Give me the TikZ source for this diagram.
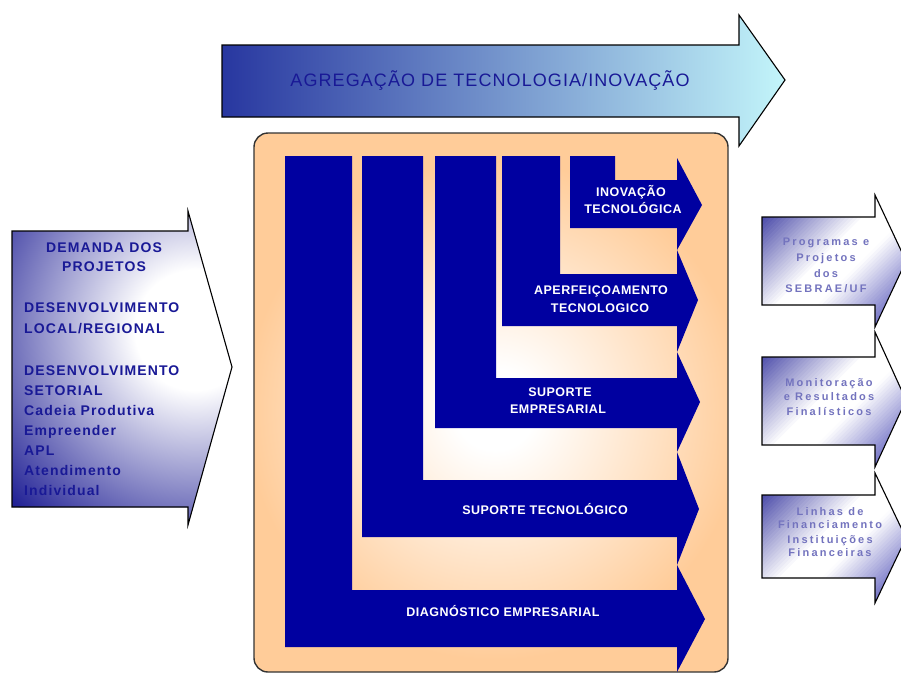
\documentclass[tikz,border=0pt]{standalone}
\usepackage{fontspec}
\setmainfont{Liberation Sans}
\newfontfamily\topfont[LetterSpace=6]{Liberation Sans}
\newfontfamily\lfont[LetterSpace=4]{Liberation Sans}
\newfontfamily\leftfont[LetterSpace=8]{Liberation Sans}
\newfontfamily\rfont[LetterSpace=20]{Liberation Sans}
\definecolor{lblue}{RGB}{0,0,160}
\definecolor{peach}{RGB}{255,204,153}
\definecolor{topdark}{RGB}{40,55,160}
\definecolor{toplight}{RGB}{195,245,250}
\definecolor{arrowdark}{RGB}{35,35,150}
\definecolor{arrowmid}{RGB}{60,60,175}
\definecolor{textblue}{RGB}{25,25,150}
\definecolor{rtext}{RGB}{115,115,190}
\pgfdeclareradialshading{peachglow}{\pgfpointorigin}{color(0bp)=(white); color(4bp)=(white); color(25bp)=(peach); color(50bp)=(peach)}
\pgfdeclareradialshading{blueglow}{\pgfpointorigin}{color(0bp)=(white); color(6bp)=(white); color(25bp)=(arrowdark); color(50bp)=(arrowdark)}
% diagonal gradient (upper left dark, white middle, lower right blue) built from thin bands
% #1 = clip path, #2 = smallest x+y, #3 = largest x+y
\newcommand\diagfill[3]{%
  \begin{scope}
    \clip #1;
    \foreach \i in {0,...,69}{%
      \pgfmathsetmacro\dsa{#2+(#3-#2)/70*\i}%
      \pgfmathsetmacro\dsb{#2+(#3-#2)/70*(\i+1)+1}%
      \pgfmathsetmacro\dtt{(\i+0.5)/70}%
      \pgfmathsetmacro\dpa{min(100,max(0,100*\dtt/0.45))}%
      \pgfmathsetmacro\dpb{min(100,max(0,100*(1-\dtt)/0.4))}%
      \fill[color={white!\dpa!arrowdark!\dpb!arrowmid}]
        (\dsa-150,150) -- (\dsb-150,150) -- (\dsb-700,700) -- (\dsa-700,700) -- cycle;
    }
  \end{scope}}
\begin{document}
\begin{tikzpicture}[x=1pt,y=-1pt,
  outline/.style={draw=black, line width=1.1pt},
  lbar/.style={fill=lblue},
  toptext/.style={inner sep=0pt, text=textblue, font=\topfont\fontsize{18}{18}\selectfont, text height=12.9pt, text depth=0pt},
  ltext/.style={inner sep=0pt, text=white, font=\lfont\bfseries\fontsize{12.5}{12.5}\selectfont, text height=9pt, text depth=0pt},
  lefttext/.style={inner sep=0pt, text=textblue, font=\leftfont\bfseries\fontsize{14}{14}\selectfont, text height=10pt, text depth=0pt},
  rtextstyle/.style={inner sep=0pt, text=rtext, font=\rfont\bfseries\fontsize{11}{11}\selectfont, text height=7.9pt, text depth=0pt}]
\useasboundingbox (0,0) rectangle (901,675);

% top arrow
\shade[outline, left color=topdark, right color=toplight]
  (222,45) -- (739,45) -- (739,15) -- (785,80) -- (739,146) -- (739,117) -- (222,117) -- cycle;
\node[toptext] (agreg) at (490,80) {AGREGAÇÃO DE TECNOLOGIA/INOVAÇÃO};

% central box
\fill[peach, rounded corners=14pt] (254,133) rectangle (728,672);
\begin{scope}
  \clip[rounded corners=14pt] (254,133) rectangle (728,672);
  \shade[shading=peachglow] (495,410) circle (250);
\end{scope}
\draw[line width=1.4pt, draw=black!80, rounded corners=14pt] (254,133) rectangle (728,672);

% L-shaped arrows
\fill[lbar] (285,156) -- (352,156) -- (352,590) -- (677,590) -- (677,565) -- (705,619) -- (677,672) -- (677,647) -- (285,647) -- cycle;
\fill[lbar] (362,156) -- (423,156) -- (423,480) -- (677,480) -- (677,452) -- (699,509) -- (677,565) -- (677,537) -- (362,537) -- cycle;
\fill[lbar] (435,156) -- (496,156) -- (496,378) -- (677,378) -- (677,352) -- (700,402) -- (677,452) -- (677,428) -- (435,428) -- cycle;
\fill[lbar] (502,156) -- (560,156) -- (560,274) -- (677,274) -- (677,250) -- (698,300) -- (677,352) -- (677,326) -- (502,326) -- cycle;
\fill[lbar] (570,156) -- (615,156) -- (615,180) -- (677,180) -- (677,158) -- (702,205) -- (677,250) -- (677,228) -- (570,228) -- cycle;

\node[ltext] (inov1) at (631,192) {INOVAÇÃO};
\node[ltext] (inov2) at (633,209) {TECNOLÓGICA};
\node[ltext] (aperf1) at (601,290) {APERFEIÇOAMENTO};
\node[ltext] (aperf2) at (600,308) {TECNOLOGICO};
\node[ltext] (supe1) at (560,392) {SUPORTE};
\node[ltext] (supe2) at (558,409) {EMPRESARIAL};
\node[ltext] (supt) at (545,510) {SUPORTE TECNOLÓGICO};
\node[ltext] (diag) at (503,612) {DIAGNÓSTICO EMPRESARIAL};

% left arrow
\fill[arrowdark] (12,231) -- (188,231) -- (188,211) -- (232,367) -- (188,525) -- (188,507) -- (12,507) -- cycle;
\begin{scope}
  \clip (12,231) -- (188,231) -- (188,211) -- (232,367) -- (188,525) -- (188,507) -- (12,507) -- cycle;
  \shade[shading=blueglow] (195,330) circle (250);
\end{scope}
\draw[outline] (12,231) -- (188,231) -- (188,211) -- (232,367) -- (188,525) -- (188,507) -- (12,507) -- cycle;

\node[lefttext] (dem1) at (104,247) {DEMANDA DOS};
\node[lefttext] (dem2) at (104,266) {PROJETOS};
\node[lefttext, anchor=west] (l1) at (24,307) {DESENVOLVIMENTO};
\node[lefttext, anchor=west] (l2) at (24,328) {LOCAL/REGIONAL};
\node[lefttext, anchor=west] (l3) at (24,370) {DESENVOLVIMENTO};
\node[lefttext, anchor=west] (l4) at (24,390) {SETORIAL};
\node[lefttext, anchor=west] (l5) at (24,410) {Cadeia Produtiva};
\node[lefttext, anchor=west] (l6) at (24,430) {Empreender};
\node[lefttext, anchor=west] (l7) at (24,450) {APL};
\node[lefttext, anchor=west] (l8) at (24,470) {Atendimento};
\node[lefttext, anchor=west] (l9) at (24,490) {Individual};

% right arrows
\diagfill{(762,217) -- (875,217) -- (875,195) -- (906,261) -- (875,327) -- (875,305) -- (762,305) -- cycle}{957}{1233}
\draw[outline] (762,217) -- (875,217) -- (875,195) -- (906,261) -- (875,327) -- (875,305) -- (762,305) -- cycle;
\diagfill{(762,357) -- (875,357) -- (875,332) -- (906,400) -- (875,467) -- (875,445) -- (762,445) -- cycle}{1094}{1373}
\draw[outline] (762,357) -- (875,357) -- (875,332) -- (906,400) -- (875,467) -- (875,445) -- (762,445) -- cycle;
\diagfill{(762,495) -- (875,495) -- (875,473) -- (906,538) -- (875,603) -- (875,578) -- (762,578) -- cycle}{1235}{1509}
\draw[outline] (762,495) -- (875,495) -- (875,473) -- (906,538) -- (875,603) -- (875,578) -- (762,578) -- cycle;

\node[rtextstyle] (r1a) at (826,242) {Programas e};
\node[rtextstyle] (r1b) at (826,258) {Projetos};
\node[rtextstyle] (r1c) at (826,274) {dos};
\node[rtextstyle] (r1d) at (826,289) {SEBRAE/UF};
\node[rtextstyle] (r2a) at (829,383) {Monitoração};
\node[rtextstyle] (r2b) at (829,397) {e Resultados};
\node[rtextstyle] (r2c) at (829,412) {Finalísticos};
\node[rtextstyle] (r3a) at (830,512) {Linhas de};
\node[rtextstyle] (r3b) at (830,525) {Financiamento};
\node[rtextstyle] (r3c) at (830,540) {Instituições};
\node[rtextstyle] (r3d) at (830,553) {Financeiras};
\end{tikzpicture}
\end{document}
